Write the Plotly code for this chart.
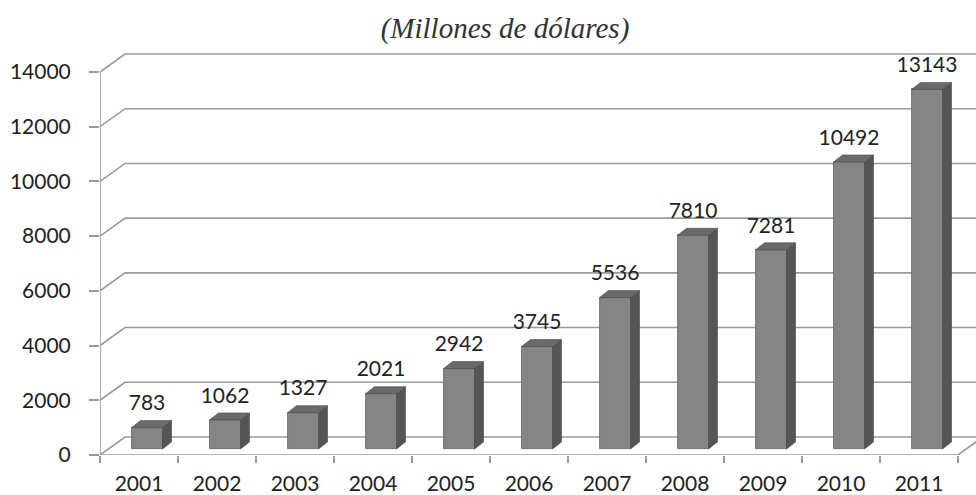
import plotly.graph_objects as go

years = ["2001", "2002", "2003", "2004", "2005", "2006", "2007", "2008", "2009", "2010", "2011"]
values = [783, 1062, 1327, 2021, 2942, 3745, 5536, 7810, 7281, 10492, 13143]
y_ticks = [0, 2000, 4000, 6000, 8000, 10000, 12000, 14000]

# pixel geometry of the fake 3D look
px_x = 78.0             # pixels per category
px_y = 383.0 / 14000    # pixels per unit
def ux(p): return p / px_x
def uy(p): return p / px_y

wall_dx, wall_dy = ux(25), uy(18)     # depth of back wall
face_off = ux(8)                      # bar front face shift right
bar_w = ux(31)
bar_base = uy(6)
side_dx, side_dy = ux(9), uy(7)

idx = list(range(len(years)))
x_front = [i + face_off for i in idx]

grid_col = "#9a9a9a"
font_txt = dict(family="Lato", size=21, color="#222222")
fig = go.Figure()

fig.add_trace(go.Bar(
    x=x_front, y=values, base=bar_base, width=bar_w,
    marker=dict(color="#858585", line=dict(color="#5e5e5e", width=0.8)),
    hoverinfo="skip", showlegend=False))

fig.add_trace(go.Scatter(
    x=x_front, y=[bar_base + v + side_dy + uy(5) for v in values],
    mode="text", text=[str(v) for v in values], textposition="top center",
    textfont=font_txt, hoverinfo="skip", showlegend=False))

shapes = []
x_end = 11.5
for v in y_ticks:
    shapes.append(dict(type="path", xref="x", yref="y", layer="below",
                       path=f"M -0.5,{v} L {-0.5 + wall_dx},{v + wall_dy} L {x_end},{v + wall_dy}",
                       line=dict(color=grid_col, width=1.6)))
# y axis line
shapes.append(dict(type="line", xref="x", yref="y", x0=-0.5, x1=-0.5, y0=0, y1=y_ticks[-1],
                   line=dict(color=grid_col, width=1.6)))
# front floor edge
last = len(years) - 0.5
shapes.append(dict(type="path", xref="x", yref="y",
                   path=f"M -0.5,0 L {last},0 L {last + wall_dx},{wall_dy}",
                   line=dict(color=grid_col, width=1.6)))

for xf, v in zip(x_front, values):
    xl, xr = xf - bar_w / 2, xf + bar_w / 2
    b, t = bar_base, bar_base + v
    shapes.append(dict(type="path", xref="x", yref="y", layer="above",
                       path=f"M {xr},{b} L {xr + side_dx},{b + side_dy} L {xr + side_dx},{t + side_dy} L {xr},{t} Z",
                       fillcolor="#555555", line=dict(color="#4a4a4a", width=0.6)))
    shapes.append(dict(type="path", xref="x", yref="y", layer="above",
                       path=f"M {xl},{t} L {xl + side_dx},{t + side_dy} L {xr + side_dx},{t + side_dy} L {xr},{t} Z",
                       fillcolor="#6a6a6a", line=dict(color="#4a4a4a", width=0.6)))

W, H = 976, 495
fig.update_layout(
    width=W, height=H,
    margin=dict(l=100, r=0, t=40, b=40),
    paper_bgcolor="white", plot_bgcolor="white",
    shapes=shapes,
    bargap=0,
    title=dict(text="(Millones de dólares)", xref="container", yref="container",
               x=505 / W, y=1 - 28 / H, xanchor="center", yanchor="middle",
               font=dict(family="Liberation Serif", size=29, color="#333333", style="italic")),
    xaxis=dict(range=[-0.5, -0.5 + 876 / px_x], tickmode="array", tickvals=idx, ticktext=years,
               showgrid=False, zeroline=False, showline=False, automargin=False,
               ticks="outside", ticklen=10, tickcolor="rgba(0,0,0,0)",
               tickfont=font_txt,
               minor=dict(tickmode="array", tickvals=[i - 0.5 for i in range(len(years) + 1)],
                          ticks="outside", ticklen=7, tickcolor=grid_col, tickwidth=1.6, showgrid=False)),
    yaxis=dict(range=[0, uy(415)], tickmode="array", tickvals=y_ticks,
               ticktext=[str(v) for v in y_ticks],
               showgrid=False, zeroline=False, showline=False, automargin=False,
               ticks="outside", ticklen=10, tickcolor=grid_col, tickwidth=1.6,
               ticklabelstandoff=14,
               tickfont=font_txt),
)

# drop the browser's default 8px body margin so the figure fills the window
fig.write_html("out.html", config={"displayModeBar": False},
               post_script="document.body.style.margin='0px';")
